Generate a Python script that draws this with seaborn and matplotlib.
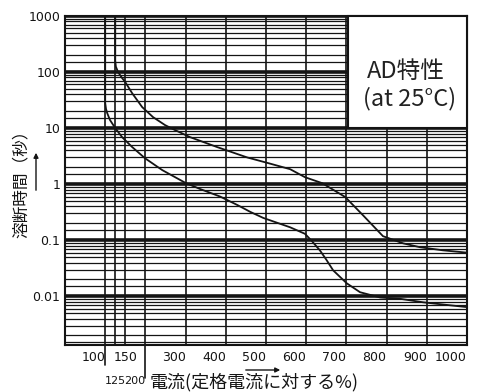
import matplotlib
matplotlib.use("Agg")
import matplotlib.pyplot as plt
import pandas as pd
import seaborn as sns
from matplotlib.ticker import LogLocator, NullFormatter
from matplotlib.patches import Rectangle

# ---- data ----
upper_x = [125, 125, 126.5, 132, 141, 150, 167, 192, 219, 249, 274, 311, 378,
           453, 503, 560, 597, 640, 697, 741, 791, 841, 883, 940, 1000]
upper_y = [1000, 160, 125, 100, 80, 66, 42, 23.7, 15.7, 11.3, 9.2, 6.9, 4.6,
           3.0, 2.4, 1.85, 1.33, 1.04, 0.59, 0.28, 0.118, 0.088, 0.075, 0.066, 0.06]

lower_x = [100, 100, 102, 105, 112, 125, 142, 167, 199, 242, 274, 300, 336, 386,
           430, 461, 493, 560, 597, 615, 634, 650, 667, 701, 734, 784, 834, 891, 958, 1000]
lower_y = [1000, 28, 22, 18.5, 13.9, 10, 6.9, 4.6, 2.9, 1.78, 1.33, 1.05, 0.82, 0.60,
           0.42, 0.32, 0.25, 0.17, 0.13, 0.095, 0.066, 0.045, 0.029, 0.017, 0.0118,
           0.0095, 0.009, 0.0078, 0.0069, 0.0064]

x_tick_values = [100, 150, 300, 400, 500, 600, 700, 800, 900, 1000]
x_tick_labels = ["100", "150", "300", "400", "500", "600", "700", "800", "900", "1000"]
x_tick2_values = [125, 200]
x_tick2_labels = ["125", "200"]
long_tick_values = [100, 200]
y_tick_values = [0.01, 0.1, 1, 10, 100, 1000]
y_tick_labels = ["0.01", "0.1", "1", "10", "100", "1000"]
y_minor_subs = [1.5, 2, 3, 4, 5, 6, 7, 8, 9]

title_line1 = "AD特性"
title_line2 = "(at 25°C)"
x_label = "電流(定格電流に対する%)"
y_label = "溶断時間（秒）"

# ---- style ----
sns.set_theme(style="white")
plt.rcParams["font.family"] = ["DejaVu Sans"]
cjk = ["Noto Sans CJK JP", "DejaVu Sans"]
ink = "#141414"

fig = plt.figure(figsize=(4.85, 3.92), dpi=100)
fig.patch.set_facecolor("white")
W, H = 485, 392
L, R, T, B = 65, 467, 16, 345
ax = fig.add_axes([L / W, 1 - B / H, (R - L) / W, (B - T) / H])

df = pd.concat([
    pd.DataFrame({"x": upper_x, "y": upper_y, "curve": "max"}),
    pd.DataFrame({"x": lower_x, "y": lower_y, "curve": "min"}),
])
sns.lineplot(data=df, x="x", y="y", hue="curve", palette=[ink, ink],
             estimator=None, sort=False, lw=1.3, legend=False, ax=ax, zorder=2)

ax.set_yscale("log")
ax.set_xlim(0, 1000)
ax.set_ylim(0.00135, 1000)
ax.set_xlabel("")
ax.set_ylabel("")

ax.set_yticks(y_tick_values, labels=y_tick_labels)
ax.yaxis.set_minor_locator(LogLocator(base=10, subs=y_minor_subs, numticks=60))
ax.yaxis.set_minor_formatter(NullFormatter())
ax.set_xticks(x_tick_values, labels=x_tick_labels)
ax.set_xticks(x_tick2_values, minor=True)
ax.tick_params(axis="both", which="both", length=0, colors=ink)
ax.tick_params(axis="x", pad=4.5, labelsize=9)
ax.tick_params(axis="y", pad=3.5, labelsize=9)
for lbl, v in zip(ax.get_xticklabels(), x_tick_values):
    lbl.set_ha("center" if v == 150 else "right")

ax.set_axisbelow(True)
ax.grid(True, which="major", axis="y", color=ink, lw=2.6)
ax.grid(True, which="minor", axis="y", color=ink, lw=0.9)
ax.grid(True, which="both", axis="x", color=ink, lw=1.2)
for s in ax.spines.values():
    s.set_color(ink)
    s.set_linewidth(1.5)

# second row of x tick labels
sec = ax.secondary_xaxis("bottom")
sec.set_xticks(x_tick2_values, labels=x_tick2_labels)
sec.tick_params(length=0, pad=22, labelsize=8, colors=ink)
sec.spines["bottom"].set_visible(False)
for lbl, v in zip(sec.get_xticklabels(), x_tick2_values):
    lbl.set_ha("center" if v == 125 else "right")

# extended tick marks below the axis
for v, ln in zip(long_tick_values, [20, 33]):
    ax.axvline(v, ymin=-ln / (B - T), ymax=0, clip_on=False, color=ink, lw=1.2)

# axis labels
ax.set_xlabel(x_label, fontsize=13, family=cjk, ha="left", va="center", color=ink)
ax.xaxis.set_label_coords((150 - L) / (R - L), -(382 - B) / (B - T))
ax.annotate("", xy=((283 - L) / (R - L), -(370 - B) / (B - T)),
            xytext=((243 - L) / (R - L), -(370 - B) / (B - T)),
            xycoords="axes fraction",
            arrowprops=dict(arrowstyle="-|>", lw=1.0, color=ink, mutation_scale=7))

ax.set_ylabel(y_label, fontsize=12, family=cjk, va="center", color=ink)
ax.yaxis.set_label_coords((21 - L) / (R - L), (B - 180) / (B - T))
ax.annotate("", xy=((36 - L) / (R - L), (B - 150) / (B - T)),
            xytext=((36 - L) / (R - L), (B - 193) / (B - T)),
            xycoords="axes fraction",
            arrowprops=dict(arrowstyle="-|>", lw=1.0, color=ink, mutation_scale=7))

# title box
ax.add_patch(Rectangle((705, 10), 295, 990, facecolor="white", edgecolor=ink,
                       lw=1.5, zorder=3, clip_on=False))
ax.text((406 - L) / (R - L), (B - 71) / (B - T), title_line1, transform=ax.transAxes,
        ha="center", va="center", fontsize=17, family=cjk, color="#222", zorder=4)
ax.text((410 - L) / (R - L), (B - 99) / (B - T), title_line2, transform=ax.transAxes,
        ha="center", va="center", fontsize=17, family=cjk, color="#222", zorder=4)

fig.savefig("out.png", dpi=100, facecolor="white")
